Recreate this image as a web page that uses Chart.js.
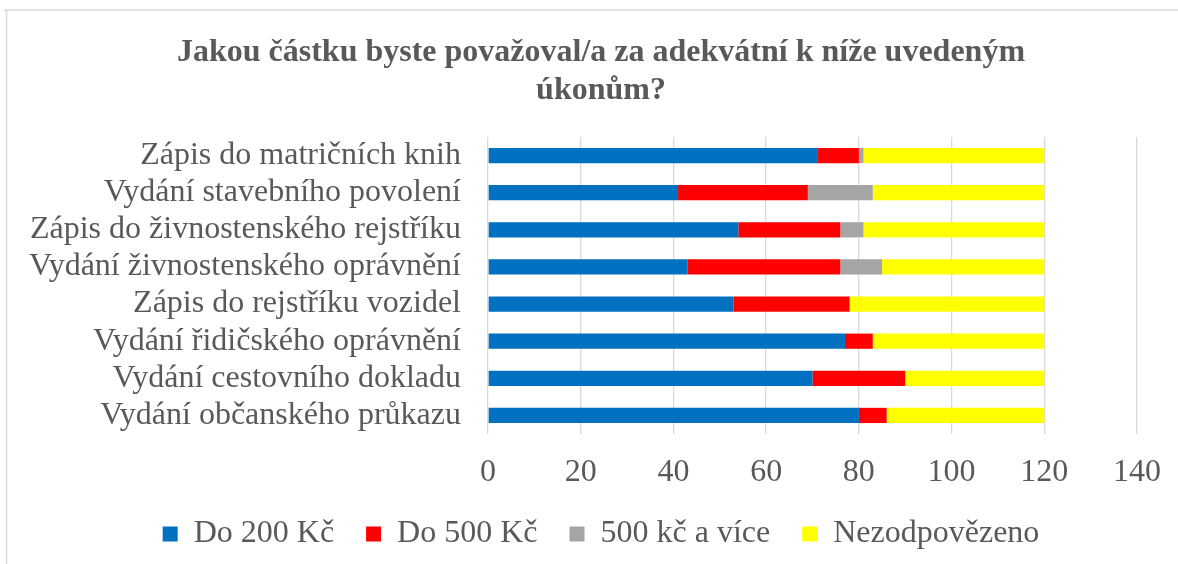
<!DOCTYPE html>
<html>
<head>
<meta charset="utf-8">
<script src="https://cdn.jsdelivr.net/npm/chart.js@4"></script>
<style>
html,body{margin:0;padding:0;background:#fff;}
#wrap{width:1178px;height:564px;position:relative;}
</style>
</head>
<body>
<div id="wrap"><canvas id="c"></canvas></div>
<script>
const categories = [
  "Zápis do matričních knih",
  "Vydání stavebního povolení",
  "Zápis do živnostenského rejstříku",
  "Vydání živnostenského oprávnění",
  "Zápis do rejstříku vozidel",
  "Vydání řidičského oprávnění",
  "Vydání cestovního dokladu",
  "Vydání občanského průkazu"
];
const do200 = [71, 41, 54, 43, 53, 77, 70, 80];
const do500 = [9, 28, 22, 33, 25, 6, 20, 6];
const nad500 = [1, 14, 5, 9, 0, 0, 0, 0];
const nezodp = [39, 37, 39, 35, 42, 37, 30, 34];
const seriesNames = ["Do 200 Kč", "Do 500 Kč", "500 kč a více", "Nezodpovězeno"];
const titleLines = ["Jakou částku byste považoval/a za adekvátní k níže uvedeným", "úkonům?"];
const xMin = 0, xMax = 140, xStep = 20;

const FONT = "'Liberation Serif', 'Times New Roman', serif";
const TXT = "#595959";

const borderPlugin = {
  id: 'outerBorder',
  beforeDraw(chart) {
    const ctx = chart.ctx;
    ctx.save();
    ctx.strokeStyle = '#d9d9d9';
    ctx.lineWidth = 1.5;
    ctx.beginPath();
    ctx.moveTo(4, 10);
    ctx.lineTo(1178, 10);
    ctx.moveTo(6.5, 10);
    ctx.lineTo(6.5, 564);
    ctx.stroke();
    ctx.restore();
  }
};

// let long category labels extend left of the y-axis box without being clipped
const labelAreaPlugin = {
  id: 'labelArea',
  afterLayout(chart) {
    const y = chart.scales.y;
    y.left = 0;
    y.width = y.right;
  }
};

new Chart(document.getElementById('c'), {
  type: 'bar',
  data: {
    labels: categories,
    datasets: [
      { label: seriesNames[0], data: do200, backgroundColor: '#0070C0' },
      { label: seriesNames[1], data: do500, backgroundColor: '#FF0000' },
      { label: seriesNames[2], data: nad500, backgroundColor: '#A5A5A5' },
      { label: seriesNames[3], data: nezodp, backgroundColor: '#FFFF00' }
    ]
  },
  plugins: [borderPlugin, labelAreaPlugin],
  options: {
    indexAxis: 'y',
    responsive: true,
    maintainAspectRatio: false,
    animation: false,
    datasets: { bar: { barPercentage: 0.41, categoryPercentage: 1.0, borderWidth: 0 } },
    layout: { padding: { left: 65, right: 41, top: 0, bottom: 4 } },
    scales: {
      x: {
        stacked: true,
        min: xMin, max: xMax,
        border: { display: false },
        grid: { color: '#d9d9d9', lineWidth: 1.3, drawTicks: false },
        ticks: { stepSize: xStep, color: TXT, font: { family: FONT, size: 32 }, padding: 19, maxRotation: 0 },
        afterFit(scale) { scale.height = 52; scale.paddingLeft = 0; scale.paddingRight = 0; }
      },
      y: {
        stacked: true,
        border: { display: false },
        grid: { display: false, drawTicks: false },
        ticks: { color: TXT, font: { family: FONT, size: 32 }, padding: 27, autoSkip: false },
        afterFit(scale) { scale.width = 423; scale.paddingTop = 0; scale.paddingBottom = 0; }
      }
    },
    plugins: {
      tooltip: { enabled: false },
      title: {
        display: true,
        text: titleLines,
        color: TXT,
        font: { family: FONT, size: 32, weight: 'bold', lineHeight: 1.1875 },
        padding: { top: 34, bottom: 27 }
      },
      legend: {
        position: 'bottom',
        labels: {
          boxWidth: 15, boxHeight: 15,
          padding: 32,
          color: TXT,
          font: { family: FONT, size: 32 }
        }
      }
    }
  }
});
</script>
</body>
</html>
